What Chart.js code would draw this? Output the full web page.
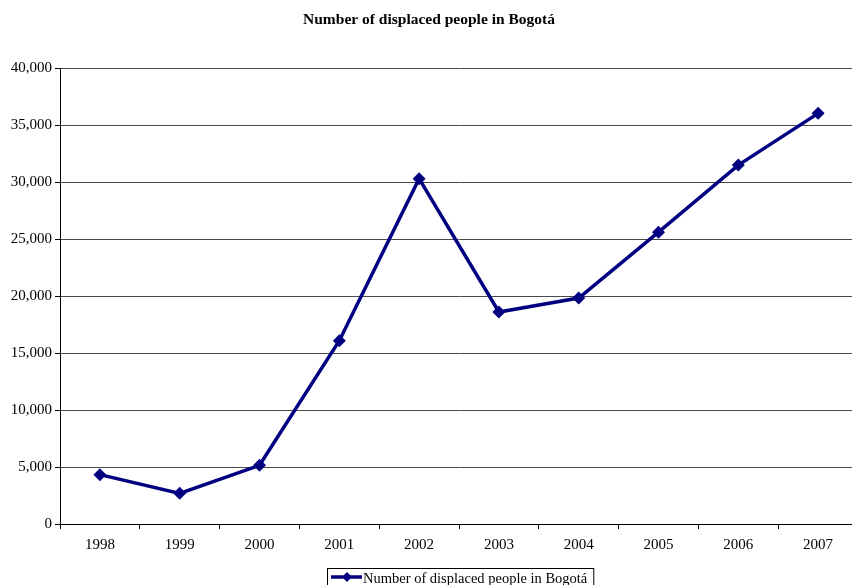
<!DOCTYPE html>
<html>
<head>
<meta charset="utf-8">
<script src="https://cdn.jsdelivr.net/npm/chart.js@4/dist/chart.umd.min.js"></script>
<style>
  html, body { margin: 0; padding: 0; background: #fff; overflow: hidden; }
  #wrap { position: absolute; left: 0; top: 0; width: 870px; height: 585px; }
</style>
</head>
<body>
<div id="wrap"><canvas id="chart"></canvas></div>
<script>
const chartTitle = 'Number of displaced people in Bogotá';
const seriesLabel = 'Number of displaced people in Bogotá';
const years = ['1998', '1999', '2000', '2001', '2002', '2003', '2004', '2005', '2006', '2007'];
const displaced = [4330, 2690, 5150, 16080, 30300, 18600, 19830, 25600, 31490, 36030];
const yTicks = [0, 5000, 10000, 15000, 20000, 25000, 30000, 35000, 40000];

const serif = '"Liberation Serif", "Times New Roman", serif';
const navy = '#000080';

// Boxed legend below the axis: line sample with a diamond, then the series name.
const boxedLegend = {
  id: 'boxedLegend',
  afterDraw(chart) {
    const ctx = chart.ctx;
    const ds = chart.data.datasets[0];
    ctx.save();
    ctx.font = '14.5px ' + serif;
    const textW = ctx.measureText(ds.label).width;
    const x0 = 327, y0 = 568, h = 22;
    const w = 36 + textW + 6;
    ctx.fillStyle = '#fff';
    ctx.fillRect(x0, y0, w, h);
    ctx.strokeStyle = '#000';
    ctx.lineWidth = 1;
    ctx.strokeRect(x0 + 0.5, y0 + 0.5, w, h);
    const my = y0 + 9;
    ctx.strokeStyle = ds.borderColor;
    ctx.lineWidth = 3.5;
    ctx.beginPath();
    ctx.moveTo(x0 + 4, my);
    ctx.lineTo(x0 + 35, my);
    ctx.stroke();
    ctx.fillStyle = ds.borderColor;
    ctx.beginPath();
    const cx = x0 + 20, r = 5;
    ctx.moveTo(cx, my - r);
    ctx.lineTo(cx + r, my);
    ctx.lineTo(cx, my + r);
    ctx.lineTo(cx - r, my);
    ctx.closePath();
    ctx.fill();
    ctx.fillStyle = '#000';
    ctx.textBaseline = 'middle';
    ctx.fillText(ds.label, x0 + 36, my + 2);
    ctx.restore();
  }
};

new Chart(document.getElementById('chart'), {
  type: 'line',
  data: {
    labels: years,
    datasets: [{
      label: seriesLabel,
      data: displaced,
      borderColor: navy,
      backgroundColor: navy,
      borderWidth: 3.5,
      pointStyle: 'rectRot',
      pointRadius: 6.5,
      pointBorderWidth: 0,
      tension: 0,
      fill: false
    }]
  },
  options: {
    responsive: true,
    maintainAspectRatio: false,
    animation: false,
    layout: { padding: { left: 0, right: 12, top: 0, bottom: 0 } },
    plugins: {
      legend: { display: false },
      tooltip: { enabled: false },
      title: {
        display: true,
        text: chartTitle,
        color: '#000',
        font: { family: serif, size: 15.5, weight: 'bold' },
        padding: { top: 11, bottom: 38.5 }
      }
    },
    scales: {
      x: {
        offset: true,
        grid: { offset: true, drawOnChartArea: false, drawTicks: true, tickLength: 5, color: '#000' },
        border: { color: '#000', width: 1 },
        ticks: { color: '#000', font: { family: serif, size: 15 }, padding: 7, maxRotation: 0 },
        afterFit(scale) { scale.height = 61; }
      },
      y: {
        min: 0,
        max: 40000,
        afterBuildTicks(scale) { scale.ticks = yTicks.map(v => ({ value: v })); },
        grid: { color: '#4a4a4a', lineWidth: 1, tickLength: 5, tickColor: '#000' },
        border: { color: '#000', width: 1 },
        ticks: {
          color: '#000',
          font: { family: serif, size: 15 },
          padding: 3,
          callback: v => v.toLocaleString('en-US')
        },
        afterFit(scale) { scale.width = 60; }
      }
    }
  },
  plugins: [boxedLegend]
});
</script>
</body>
</html>
